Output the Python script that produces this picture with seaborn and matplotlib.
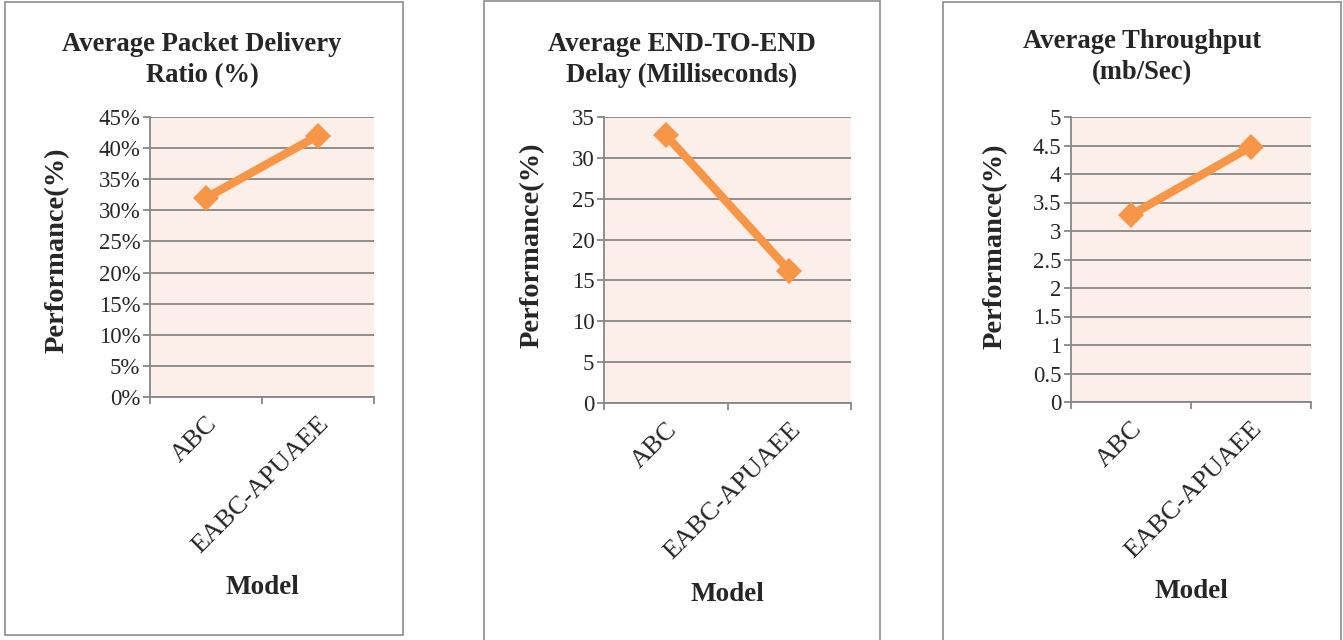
import matplotlib
matplotlib.use("Agg")
import matplotlib.pyplot as plt
from matplotlib.patches import Rectangle
from matplotlib.ticker import FixedLocator, FuncFormatter
import pandas as pd
import seaborn as sns

# --- data ---
models = ["ABC", "EABC-APUAEE"]
pdr = [0.32, 0.42]          # packet delivery ratio (fraction)
delay = [32.8, 16.2]        # end-to-end delay (ms)
throughput = [3.28, 4.48]   # mb/sec

titles = ["Average Packet Delivery\nRatio (%)",
          "Average END-TO-END\nDelay (Milliseconds)",
          "Average Throughput\n(mb/Sec)"]
y_ticks = [[i * 0.05 for i in range(10)],
           list(range(0, 36, 5)),
           [i * 0.5 for i in range(11)]]

sns.set_style("white")
plt.rcParams["font.family"] = ["Liberation Serif", "DejaVu Serif"]

W, H = 1343, 640
fig = plt.figure(figsize=(W / 100, H / 100), dpi=100)

ORANGE = "#F79646"
GRID = "#878787"
BG = "#FCEEE9"

# pixel boxes: axes (left, top, right, bottom), panel frame, title center, label positions
axes_px = [(150, 117, 374, 397), (604, 117, 851, 403), (1071, 117, 1311, 402)]
frames_px = [(5, 2, 403, 635), (484, 1, 880, 660), (943, 2, 1341, 660)]
title_px = [(202, 60), (682, 60), (1142, 57)]
ylab_px = [(70, 250), (545, 245), (1008, 246)]
xlab_top_px = [575, 582, 579]

series = [pdr, delay, throughput]
fmts = [lambda v, p: f"{v * 100:.0f}%",
        lambda v, p: f"{v:g}",
        lambda v, p: f"{v:g}"]

for i in range(3):
    l, t, r, b = axes_px[i]
    ax = fig.add_axes([l / W, 1 - b / H, (r - l) / W, (b - t) / H])
    ax.set_facecolor(BG)

    df = pd.DataFrame({"Model": models, "value": series[i]})
    sns.lineplot(data=df, x="Model", y="value", ax=ax, color=ORANGE,
                 linewidth=6, marker="D", markersize=13,
                 markeredgecolor=ORANGE, markeredgewidth=0)

    ax.set_xlim(-0.5, 1.5)
    ax.set_ylim(y_ticks[i][0], y_ticks[i][-1])
    ax.yaxis.set_major_locator(FixedLocator(y_ticks[i]))
    ax.yaxis.set_major_formatter(FuncFormatter(fmts[i]))
    ax.grid(axis="y", color=GRID, linewidth=1.3)
    ax.grid(axis="x", visible=False)
    ax.set_axisbelow(True)

    ax.set_xticks([0, 1])
    ax.set_xticklabels(models, rotation=45, ha="right", va="top",
                       rotation_mode="anchor")
    ax.set_xticks([-0.5, 0.5, 1.5], minor=True)
    ax.tick_params(axis="x", which="major", length=0, pad=11, labelsize=19)
    ax.tick_params(axis="x", which="minor", length=5, width=1.3,
                   color=GRID, direction="out", bottom=True)
    ax.tick_params(axis="y", length=5, width=1.3, color=GRID, left=True,
                   direction="out", labelsize=16.5, pad=2)

    for s in ["top", "right"]:
        ax.spines[s].set_visible(False)
    for s in ["left", "bottom"]:
        ax.spines[s].set_color(GRID)
        ax.spines[s].set_linewidth(1.3)

    ax.set_ylabel("Performance(%)", fontsize=20.5, fontweight="bold")
    ax.set_xlabel("Model", fontsize=19.5, fontweight="bold")
    ax.yaxis.set_label_coords((ylab_px[i][0] - l) / (r - l),
                              (b - ylab_px[i][1]) / (b - t))
    ax.xaxis.set_label_coords(0.5, (b - xlab_top_px[i]) / (b - t))

    fig.text(title_px[i][0] / W, 1 - title_px[i][1] / H, titles[i],
             ha="center", va="center", fontsize=19.2, fontweight="bold",
             linespacing=1.3)

    fl, ft, fr, fb = frames_px[i]
    fig.patches.append(Rectangle((fl / W, 1 - fb / H), (fr - fl) / W, (fb - ft) / H,
                                 transform=fig.transFigure, fill=False,
                                 edgecolor="#8C8C8C", linewidth=1.2))

fig.savefig("out.png", dpi=100)
